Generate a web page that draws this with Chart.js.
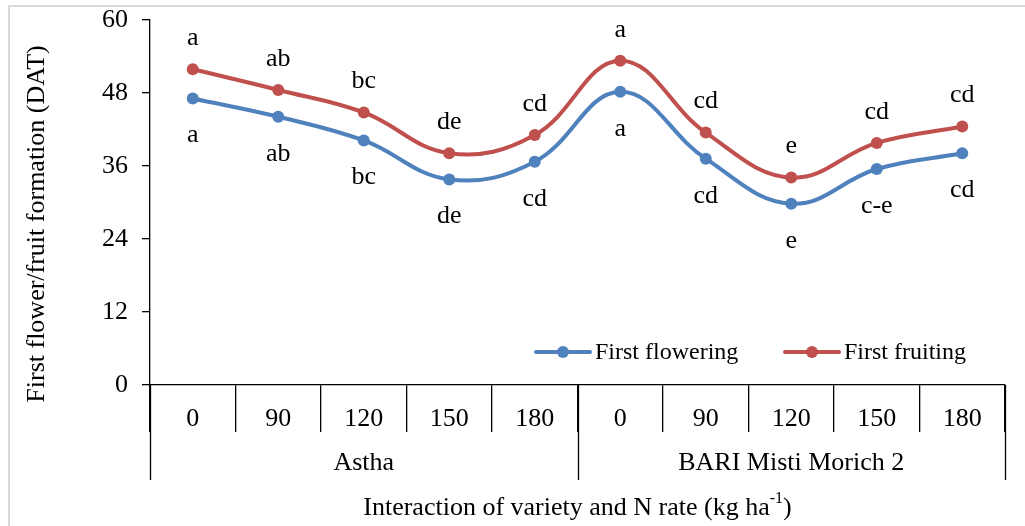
<!DOCTYPE html>
<html>
<head>
<meta charset="utf-8">
<script src="https://cdn.jsdelivr.net/npm/chart.js@4.4.1/dist/chart.umd.min.js"></script>
<style>
  html, body { margin: 0; padding: 0; background: #fff; }
  #wrap { width: 1025px; height: 526px; position: relative; }
</style>
</head>
<body>
<div id="wrap"><canvas id="chart"></canvas></div>
<script>
// values
const nRates = ['0', '90', '120', '150', '180', '0', '90', '120', '150', '180'];
const varieties = ['Astha', 'BARI Misti Morich 2'];
const groupSize = 5;
const floweringDays = [47.1, 44.1, 40.2, 33.8, 36.7, 48.2, 37.2, 29.8, 35.5, 38.1];
const fruitingDays = [51.9, 48.5, 44.8, 38.1, 41.1, 53.3, 41.5, 34.1, 39.8, 42.5];
const floweringLetters = ['a', 'ab', 'bc', 'de', 'cd', 'a', 'cd', 'e', 'c-e', 'cd'];
const fruitingLetters = ['a', 'ab', 'bc', 'de', 'cd', 'a', 'cd', 'e', 'cd', 'cd'];
const yTicks = [0, 12, 24, 36, 48, 60];

const FONT = '"Liberation Serif", "Times New Roman", serif';
const BLUE = '#4F81BD';
const RED = '#C0504D';

// letters above/below points, grouped x axis, axis titles, frame
const extras = {
    id: 'extras',
    afterDatasetsDraw(chart) {
        const c = chart.ctx;
        c.save();
        c.font = '26px ' + FONT;
        c.fillStyle = '#000';
        c.textAlign = 'center';
        c.textBaseline = 'middle';
        chart.getDatasetMeta(0).data.forEach((pt, i) => {
            c.fillText(floweringLetters[i], pt.x, pt.y + 37);
        });
        chart.getDatasetMeta(1).data.forEach((pt, i) => {
            c.fillText(fruitingLetters[i], pt.x, pt.y - 31);
        });
        c.restore();
    },
    afterDraw(chart) {
        const c = chart.ctx;
        const x = chart.scales.x;
        const bottom = chart.chartArea.bottom;
        const half = (x.getPixelForValue(1) - x.getPixelForValue(0)) / 2;
        c.save();
        c.strokeStyle = '#000';
        c.lineWidth = 1.3;
        c.fillStyle = '#000';
        c.font = '26px ' + FONT;
        c.textAlign = 'center';
        c.textBaseline = 'middle';
        for (let g = 0; g <= varieties.length; g++) {
            const px = Math.round(x.getPixelForValue(g * groupSize) - half) + 0.5;
            c.beginPath();
            c.moveTo(px, bottom);
            c.lineTo(px, bottom + 95);
            c.stroke();
        }
        varieties.forEach((v, g) => {
            const l = x.getPixelForValue(g * groupSize) - half;
            const r = x.getPixelForValue(g * groupSize + groupSize - 1) + half;
            c.fillText(v, (l + r) / 2, bottom + 78);
        });
        // x title with superscript
        const main = 'Interaction of variety and N rate (kg ha';
        const sup = '-1';
        const tail = ')';
        const w1 = c.measureText(main).width;
        const w3 = c.measureText(tail).width;
        c.font = '16px ' + FONT;
        const w2 = c.measureText(sup).width;
        const cx = (chart.chartArea.left + chart.chartArea.right) / 2;
        const sx = cx - (w1 + w2 + w3) / 2;
        c.textAlign = 'left';
        c.font = '26px ' + FONT;
        c.fillText(main, sx, bottom + 123);
        c.font = '16px ' + FONT;
        c.fillText(sup, sx + w1, bottom + 114);
        c.font = '26px ' + FONT;
        c.fillText(tail, sx + w1 + w2, bottom + 123);
        // y title
        c.translate(37, 224);
        c.rotate(-Math.PI / 2);
        c.textAlign = 'center';
        c.fillText('First flower/fruit formation (DAT)', 0, 0);
        c.setTransform(1, 0, 0, 1, 0, 0);
        // frame
        c.strokeStyle = '#d9d9d9';
        c.lineWidth = 2;
        c.strokeRect(9, 6, 1100, 600);
        c.restore();
    }
};

const legendBox = {
    id: 'legendBox',
    afterDraw(chart) {
        const c = chart.ctx;
        const items = [
            { ds: chart.data.datasets[0], x: 536 },
            { ds: chart.data.datasets[1], x: 785 }
        ];
        const y = 352;
        c.save();
        items.forEach(it => {
            c.strokeStyle = it.ds.borderColor;
            c.fillStyle = it.ds.borderColor;
            c.lineWidth = 4;
            c.lineCap = 'round';
            c.beginPath();
            c.moveTo(it.x, y);
            c.lineTo(it.x + 54, y);
            c.stroke();
            c.beginPath();
            c.arc(it.x + 27, y, 6, 0, Math.PI * 2);
            c.fill();
            c.fillStyle = '#000';
            c.font = '24px ' + FONT;
            c.textAlign = 'left';
            c.textBaseline = 'middle';
            c.fillText(it.ds.label, it.x + 59, y + 1);
        });
        c.restore();
    }
};

new Chart(document.getElementById('chart').getContext('2d'), {
    type: 'line',
    data: {
        labels: nRates,
        datasets: [
            {
                label: 'First flowering',
                data: floweringDays,
                borderColor: BLUE,
                backgroundColor: BLUE,
                borderWidth: 4,
                pointRadius: 6,
                pointBorderWidth: 0,
                tension: 0.4
            },
            {
                label: 'First fruiting',
                data: fruitingDays,
                borderColor: RED,
                backgroundColor: RED,
                borderWidth: 4,
                pointRadius: 6,
                pointBorderWidth: 0,
                tension: 0.4
            }
        ]
    },
    options: {
        responsive: true,
        maintainAspectRatio: false,
        animation: false,
        layout: { padding: { top: 20, right: 20, left: 12, bottom: 0 } },
        plugins: {
            legend: { display: false },
            tooltip: { enabled: false }
        },
        scales: {
            x: {
                offset: true,
                grid: {
                    display: true,
                    drawOnChartArea: false,
                    offset: true,
                    tickLength: 47,
                    color: '#000',
                    lineWidth: 1.3
                },
                border: { color: '#000', width: 1.3 },
                ticks: {
                    font: { family: FONT, size: 26 },
                    color: '#000',
                    padding: -28,
                    maxRotation: 0,
                    autoSkip: false
                },
                afterFit(scale) {
                    scale.height = 141;
                    scale.paddingLeft = 0;
                    scale.paddingRight = 0;
                }
            },
            y: {
                min: 0,
                max: 60,
                afterBuildTicks(scale) { scale.ticks = yTicks.map(v => ({ value: v })); },
                grid: {
                    drawOnChartArea: false,
                    tickLength: 8,
                    color: '#000',
                    lineWidth: 1.3
                },
                border: { color: '#000', width: 1.3 },
                ticks: {
                    font: { family: FONT, size: 26 },
                    color: '#000',
                    padding: 14
                },
                afterFit(scale) {
                    scale.width = 138;
                    scale.paddingTop = 0;
                    scale.paddingBottom = 0;
                }
            }
        }
    },
    plugins: [extras, legendBox]
});
</script>
</body>
</html>
